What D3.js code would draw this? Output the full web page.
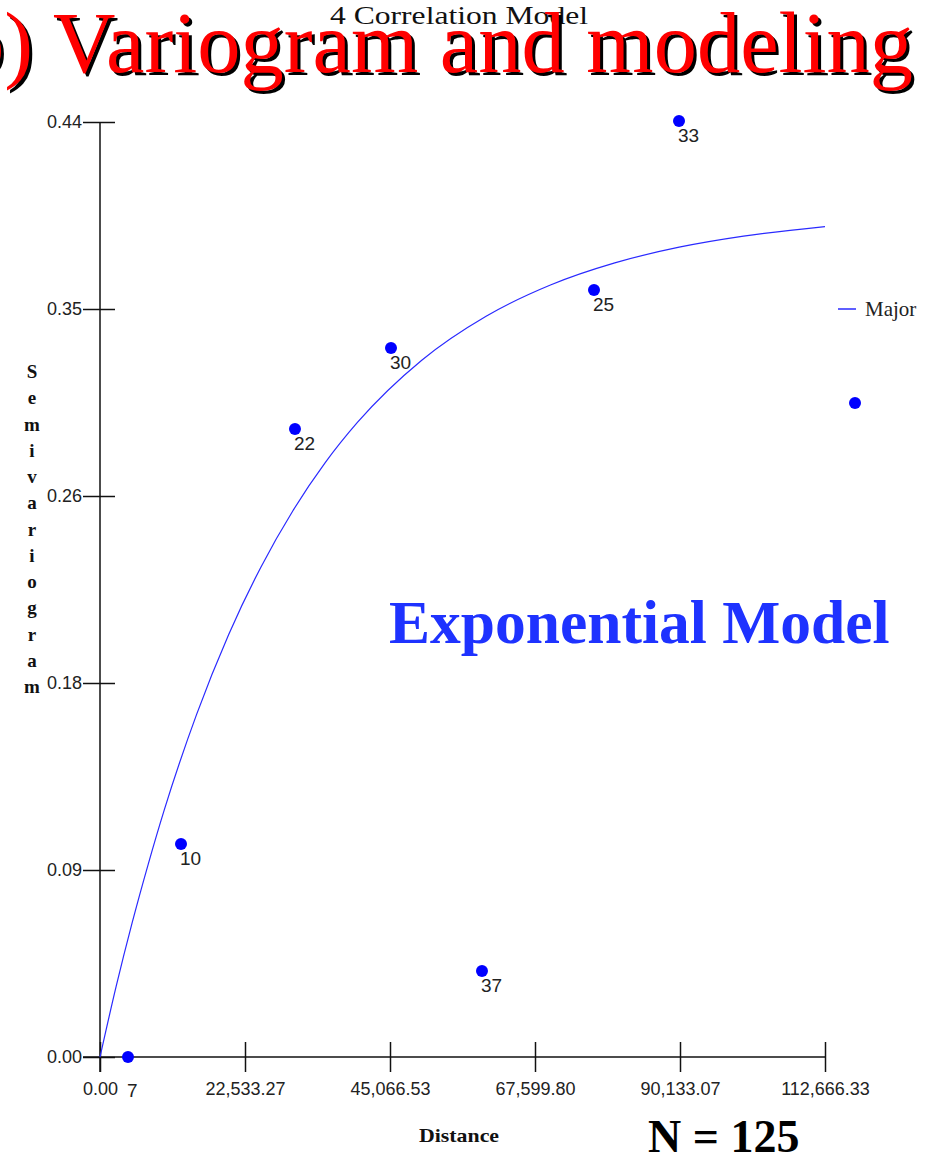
<!DOCTYPE html>
<html>
<head>
<meta charset="utf-8">
<script src="https://cdn.jsdelivr.net/npm/d3@7"></script>
<style>
  html, body { margin: 0; padding: 0; background: #fff; }
  svg { display: block; }
</style>
</head>
<body>
<svg id="chart" width="929" height="1157"></svg>
<script>
// ---- data ----
const lagDistance = [4350, 12590, 30300, 45220, 59360, 76770, 89980, 117330];
const semivariance = [0.000, 0.1002, 0.2955, 0.3336, 0.0405, 0.3609, 0.4405, 0.3078];
const pairCounts = ["7", "10", "22", "30", "37", "25", "33", ""];

const modelDistance = [0, 2500, 5000, 7500, 10000, 15000, 20000, 25000, 30000, 35000, 40000, 50000, 60000, 70000, 80000, 90000, 100000, 112666.33];
const modelGamma   = [0, 0.0331, 0.0632, 0.0908, 0.1164, 0.1611, 0.1988, 0.2305, 0.2572, 0.2797, 0.2986, 0.3279, 0.3486, 0.3633, 0.3737, 0.3811, 0.3863, 0.3908];

const xTicks = [0, 22533.27, 45066.53, 67599.80, 90133.07, 112666.33];
const yTicks = [0, 0.088, 0.176, 0.264, 0.352, 0.44];
const yAxisTitle = "Semivariogram";
const legendLabel = "Major";

// ---- drawing ----
const svg = d3.select("#chart");
const x = d3.scaleLinear().domain([0, 112666.33]).range([100, 825]);
const y = d3.scaleLinear().domain([0, 0.44]).range([1057, 122]);
const axisColor = "#111";
const tickFont = "'Liberation Sans Narrow', 'Arial Narrow', 'Liberation Sans', sans-serif";
const serif = "'Liberation Serif', 'Times New Roman', serif";

// title
svg.append("text")
  .attr("x", 330).attr("y", 24)
  .attr("textLength", 258).attr("lengthAdjust", "spacingAndGlyphs")
  .style("font-family", serif)
  .style("font-size", "26px")
  .style("fill", "#111")
  .text("4 Correlation Model");

// big overlay heading with shadow
const heading = "b) Variogram and modeling";
svg.append("text")
  .attr("x", -36).attr("y", 75)
  .style("font-family", serif)
  .style("font-size", "86.5px").style("fill", "#000")
  .text(heading);
svg.append("text")
  .attr("x", -39).attr("y", 72)
  .style("font-family", serif)
  .style("font-size", "86.5px").style("fill", "#ff0000")
  .text(heading);

// Y axis
const yAxis = d3.axisLeft(y).tickValues(yTicks).tickFormat(d3.format(".2f"))
  .tickSize(17).tickPadding(1);
const gy = svg.append("g").attr("transform", `translate(${x(0)},0)`).call(yAxis);
gy.select(".domain").remove();
gy.selectAll(".tick line").attr("stroke", axisColor).attr("stroke-width", 1.5);
gy.selectAll(".tick").append("line").attr("x1", 0).attr("x2", 15)
  .attr("stroke", axisColor).attr("stroke-width", 1.5);
gy.selectAll(".tick text")
  .style("font-family", tickFont).style("font-size", "18px").style("fill", "#222");
svg.append("line")
  .attr("x1", x(0)).attr("x2", x(0))
  .attr("y1", y(0.44)).attr("y2", y(0) + 15)
  .attr("stroke", axisColor).attr("stroke-width", 1.5);

// X axis
const xAxis = d3.axisBottom(x).tickValues(xTicks).tickFormat(d3.format(",.2f"))
  .tickSize(15).tickPadding(10);
const gx = svg.append("g").attr("transform", `translate(0,${y(0)})`).call(xAxis);
gx.select(".domain").remove();
gx.selectAll(".tick line").attr("stroke", axisColor).attr("stroke-width", 1.5);
gx.selectAll(".tick").append("line").attr("y1", 0).attr("y2", -15)
  .attr("stroke", axisColor).attr("stroke-width", 1.5);
gx.selectAll(".tick text")
  .style("font-family", tickFont).style("font-size", "18px").style("fill", "#222");
svg.append("line")
  .attr("x1", x(0) - 17).attr("x2", x(112666.33))
  .attr("y1", y(0)).attr("y2", y(0))
  .attr("stroke", axisColor).attr("stroke-width", 1.5);

// Y axis title (stacked letters)
svg.append("g").selectAll("text")
  .data(yAxisTitle.split(""))
  .join("text")
  .attr("x", 32).attr("y", (d, i) => 378 + i * 26.25)
  .attr("text-anchor", "middle")
  .style("font-family", serif)
  .style("font-weight", "bold").style("font-size", "19px").style("fill", "#111")
  .text(d => d);

// X axis title
svg.append("text")
  .attr("x", 419).attr("y", 1142)
  .attr("textLength", 80).attr("lengthAdjust", "spacingAndGlyphs")
  .style("font-family", serif)
  .style("font-weight", "bold").style("font-size", "19px").style("fill", "#111")
  .text("Distance");

// model curve
const modelPts = modelDistance.map((d, i) => [d, modelGamma[i]]);
svg.append("path")
  .datum(modelPts)
  .attr("fill", "none").attr("stroke", "#2a2aff").attr("stroke-width", 1.2)
  .attr("d", d3.line().x(d => x(d[0])).y(d => y(d[1])).curve(d3.curveMonotoneX));

// points
const pts = lagDistance.map((d, i) => ({ h: d, g: semivariance[i], n: pairCounts[i] }));
svg.append("g").selectAll("circle")
  .data(pts).join("circle")
  .attr("cx", d => x(d.h)).attr("cy", d => y(d.g)).attr("r", 6)
  .attr("fill", "#0000ff");
svg.append("g").selectAll("text")
  .data(pts).join("text")
  .attr("x", d => x(d.h) - 1)
  .attr("y", d => y(d.g) + (d.g === 0 ? 40 : 21))
  .style("font-family", tickFont).style("font-size", "19px").style("fill", "#222")
  .text(d => d.n);

// legend
svg.append("line").attr("x1", 838).attr("x2", 856).attr("y1", 309).attr("y2", 309)
  .attr("stroke", "#2a2aff").attr("stroke-width", 1.5);
svg.append("text").attr("x", 865).attr("y", 316)
  .style("font-family", serif)
  .style("font-size", "21px").style("fill", "#222")
  .text(legendLabel);

// annotations
svg.append("text").attr("x", 389).attr("y", 643)
  .style("font-family", serif)
  .style("font-weight", "bold").style("font-size", "61.5px").style("fill", "#1e32ff")
  .text("Exponential Model");
svg.append("text").attr("x", 648).attr("y", 1152)
  .style("font-family", serif)
  .style("font-weight", "bold").style("font-size", "46px").style("fill", "#000")
  .text("N = 125");
</script>
</body>
</html>
